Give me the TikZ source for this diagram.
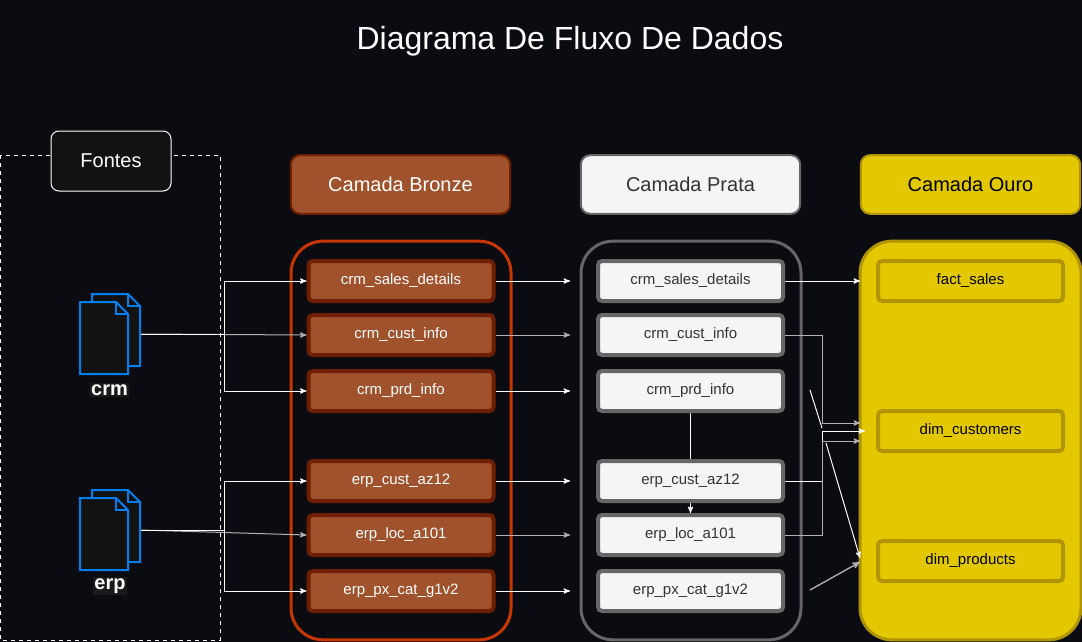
\documentclass[tikz,border=0pt]{standalone}
\usepackage{fontspec}
\setmainfont{Liberation Sans}
\usetikzlibrary{positioning}
\usetikzlibrary{arrows}
\definecolor{pagebg}{HTML}{0B0B12}
\definecolor{bronzefill}{HTML}{A0522D}
\definecolor{bronzeline}{HTML}{6D1F00}
\definecolor{bronzewrapline}{HTML}{C73500}
\definecolor{silverfill}{HTML}{F5F5F5}
\definecolor{silverline}{HTML}{666666}
\definecolor{silvertext}{HTML}{333333}
\definecolor{goldfill}{HTML}{E3C800}
\definecolor{goldline}{HTML}{B09500}
\definecolor{docblue}{HTML}{007FEE}
\definecolor{darkbox}{HTML}{121212}
\definecolor{labelbox}{HTML}{1A1A1A}
\pgfdeclarelayer{back}
\pgfsetlayers{back,main}
\begin{document}
\begin{tikzpicture}[x=0.75pt, y=-0.75pt, >=stealth',
    head/.style = {draw, rounded corners=7pt, line width=1.5pt, minimum width=164.5pt, minimum height=44pt, font=\fontsize{15}{18}\selectfont},
    wrap/.style = {draw, rounded corners=24pt, line width=2.25pt, minimum width=165pt, minimum height=299pt},
    item/.style = {draw, rounded corners=3pt, line width=3pt, minimum width=138.75pt, minimum height=30pt, font=\fontsize{11.25}{14}\selectfont},
    bronze/.style = {fill=bronzefill, draw=bronzeline, text=white},
    silver/.style = {fill=silverfill, draw=silverline, text=silvertext},
    gold/.style = {fill=goldfill, draw=goldline, text=black},
    flow/.style = {->, white, line width=0.75pt},
    dimflow/.style = {->, white!70!black, line width=0.75pt},
    source/.style = {text=white, fill=labelbox, inner sep=1pt, font=\bfseries\fontsize{15}{18}\selectfont},
    docs/.pic = {
        \draw[docblue, fill=darkbox, line width=1.5pt] (12,-40) -- (48,-40) -- (60,-28) -- (60,32) -- (12,32) -- cycle;
        \draw[docblue, line width=1.5pt] (48,-40) -- (48,-28) -- (60,-28);
        \draw[docblue, fill=darkbox, line width=1.5pt] (0,-32) -- (36,-32) -- (48,-20) -- (48,40) -- (0,40) -- cycle;
        \draw[docblue, line width=1.5pt] (36,-32) -- (36,-20) -- (48,-20);
        \coordinate (-out) at (61,0);
    }]
    \begin{pgfonlayer}{back}
        \fill[pagebg] (0,0) rectangle (1082,642);
    \end{pgfonlayer}
    \useasboundingbox (0,0) rectangle (1082,642);

    \node[white, font=\fontsize{24}{28}\selectfont] (title) at (570,41) {Diagrama De Fluxo De Dados};

    % fontes
    \draw[white, dashed, line width=0.75pt] (0,155) rectangle (220,640);
    \node[draw=white, fill=darkbox, text=white, rounded corners=6pt, line width=0.75pt, minimum width=90pt, minimum height=45pt, font=\fontsize{15}{18}\selectfont] (fontes) at (111,161) {Fontes};
    \pic (crm) at (80,334) {docs};
    \pic (erp) at (80,530) {docs};
    \node[source] (crmlabel) at (109.5,390) {crm};
    \node[source] (erplabel) at (110,586) {erp};

    % camadas
    \node[head, bronze] (bhead) at (400.5,184.5) {Camada Bronze};
    \node[head, silver] (shead) [right of=bhead, node distance=217.5pt] {Camada Prata};
    \node[head, gold] (ghead) [right of=shead, node distance=210pt] {Camada Ouro};
    \node[wrap, draw=bronzewrapline] (bwrap) at (401,440.5) {};
    \node[wrap, draw=silverline] (swrap) [right of=bwrap, node distance=217.5pt] {};
    \node[wrap, draw=goldline, fill=goldfill, minimum width=165.75pt] (gwrap) at (970.5,440.5) {};

    % bronze
    \node[item, bronze] (bsales) at (401,281) {crm\_sales\_details};
    \node[item, bronze] (bcust) [below of=bsales, node distance=40.5pt] {crm\_cust\_info};
    \node[item, bronze] (bprd) [below of=bcust, node distance=42pt] {crm\_prd\_info};
    \node[item, bronze] (baz) [below of=bprd, node distance=67.5pt] {erp\_cust\_az12};
    \node[item, bronze] (bloc) [below of=baz, node distance=40.5pt] {erp\_loc\_a101};
    \node[item, bronze] (bpx) [below of=bloc, node distance=42pt] {erp\_px\_cat\_g1v2};

    % prata
    \node[item, silver] (ssales) at (690.5,281) {crm\_sales\_details};
    \node[item, silver] (scust) [below of=ssales, node distance=40.5pt] {crm\_cust\_info};
    \node[item, silver] (sprd) [below of=scust, node distance=42pt] {crm\_prd\_info};
    \node[item, silver] (saz) [below of=sprd, node distance=67.5pt] {erp\_cust\_az12};
    \node[item, silver] (sloc) [below of=saz, node distance=40.5pt] {erp\_loc\_a101};
    \node[item, silver] (spx) [below of=sloc, node distance=42pt] {erp\_px\_cat\_g1v2};

    % ouro
    \node[item, gold] (gsales) at (970.5,281) {fact\_sales};
    \node[item, gold] (gcust) [below of=gsales, node distance=112.5pt] {dim\_customers};
    \node[item, gold] (gprod) [below of=gcust, node distance=97.5pt] {dim\_products};

    % pontos livres
    \coordinate (crmfan) at (224,334);
    \coordinate (erpfan) at (224,530);
    \foreach \row/\y in {sales/281, cust/335, prd/391, az/481, loc/535, px/591}
        \coordinate (in\row) at (570,\y);
    \coordinate (goldin) at (860,281);
    \coordinate (custjoin) at (822,423);
    \coordinate (azjoin) at (822,431);
    \coordinate (locjoin) at (822,441);
    \coordinate (custin) at (860,423);
    \coordinate (azin) at (865,431);
    \coordinate (locin) at (860,441);
    \coordinate (prdstart) at (810,390);
    \coordinate (prdgap) at (822,428);
    \coordinate (prdresume) at (826,443);
    \coordinate (prdin) at (860,558);
    \coordinate (pxstart) at (810,590);
    \coordinate (pxin) at (860,562);

    % fontes para bronze
    \draw[flow] (crm-out) -- (crmfan) |- (bsales.west);
    \draw[dimflow] (crm-out) -- (bcust.west);
    \draw[flow] (crm-out) -- (crmfan) |- (bprd.west);
    \draw[flow] (erp-out) -- (erpfan) |- (baz.west);
    \draw[dimflow] (erp-out) -- (bloc.west);
    \draw[flow] (erp-out) -- (erpfan) |- (bpx.west);

    % bronze para prata
    \draw[flow] (bsales.east) -- (insales);
    \draw[dimflow] (bcust.east) -- (incust);
    \draw[flow] (bprd.east) -- (inprd);
    \draw[flow] (baz.east) -- (inaz);
    \draw[dimflow] (bloc.east) -- (inloc);
    \draw[flow] (bpx.east) -- (inpx);

    % prata para ouro
    \draw[flow] (ssales.east) -- (goldin);
    \draw[dimflow] (scust.east) -| (custjoin) -- (custin);
    \draw[flow] (saz.east) -| (azjoin) -- (azin);
    \draw[dimflow] (sloc.east) -| (locjoin) -- (locin);
    \draw[white, line width=0.75pt] (prdstart) -- (prdgap);
    \draw[flow] (prdresume) -- (prdin);
    \draw[dimflow, line width=1pt] (pxstart) -- (pxin);
    \begin{pgfonlayer}{back}
        \draw[flow] (sprd.south) -- (sloc.north);
    \end{pgfonlayer}
\end{tikzpicture}
\end{document}
